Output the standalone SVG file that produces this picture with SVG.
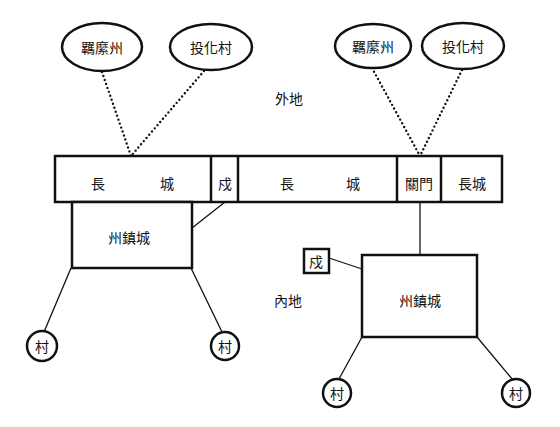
<svg xmlns="http://www.w3.org/2000/svg" width="560" height="427" viewBox="0 0 560 427">
<style>
text{font-family:"Noto Sans CJK TC","Noto Sans CJK JP",sans-serif;font-size:14px;fill:#111;text-anchor:middle;dominant-baseline:central}
.box{fill:#fff;stroke:#111;stroke-width:2.5}
.ell{fill:#fff;stroke:#111;stroke-width:2.5}
.ln{stroke:#111;stroke-width:1.3;fill:none}
.dot{stroke:#111;stroke-width:2.4;fill:none;stroke-dasharray:0 4.2;stroke-linecap:round}
</style>
<rect width="560" height="427" fill="#fff"/>
<g id="connectors">
<line class="dot" x1="102" y1="72" x2="131" y2="156"/>
<line class="dot" x1="204" y1="71" x2="131" y2="156"/>
<line class="dot" x1="372" y1="68" x2="420" y2="156"/>
<line class="dot" x1="462" y1="70" x2="420" y2="156"/>
<line class="ln" x1="225" y1="202" x2="192" y2="228"/>
<line class="ln" x1="420" y1="202" x2="420" y2="255"/>
<line class="ln" x1="329" y1="258" x2="362" y2="269"/>
<line class="ln" x1="71" y1="268" x2="44" y2="332"/>
<line class="ln" x1="191" y1="268" x2="222" y2="332"/>
<line class="ln" x1="362" y1="337" x2="339" y2="379"/>
<line class="ln" x1="477" y1="337" x2="513" y2="380"/>
</g>
<g id="wall">
<rect class="box" x="55" y="156" width="447" height="46"/>
<line class="box" x1="211" y1="156" x2="211" y2="202"/>
<line class="box" x1="238" y1="156" x2="238" y2="202"/>
<line class="box" x1="397" y1="156" x2="397" y2="202"/>
<line class="box" x1="441" y1="156" x2="441" y2="202"/>
<text x="98" y="183">長</text>
<text x="167" y="183">城</text>
<text x="225" y="183">戍</text>
<text x="287" y="183">長</text>
<text x="353" y="183">城</text>
<text x="419" y="183">關門</text>
<text x="472" y="183">長城</text>
</g>
<g id="ell-l1"><ellipse class="ell" cx="102" cy="47" rx="40" ry="24"/><text x="102" y="47">羈縻州</text></g>
<g id="ell-l2"><ellipse class="ell" cx="211" cy="47" rx="41" ry="23"/><text x="211" y="47">投化村</text></g>
<g id="ell-r1"><ellipse class="ell" cx="373" cy="46" rx="38" ry="22"/><text x="373" y="46">羈縻州</text></g>
<g id="ell-r2"><ellipse class="ell" cx="463" cy="46" rx="41" ry="23"/><text x="463" y="46">投化村</text></g>
<g id="label-out"><text x="289" y="98">外地</text></g>
<g id="label-in"><text x="288" y="300">內地</text></g>
<g id="city-l"><rect class="box" x="72" y="202" width="120" height="66"/><text x="129" y="237">州鎮城</text></g>
<g id="city-r"><rect class="box" x="362" y="255" width="115" height="82"/><text x="420" y="300">州鎮城</text></g>
<g id="fort-r"><rect class="box" x="304" y="249" width="25" height="24"/><text x="316" y="261">戍</text></g>
<g id="v1"><circle class="ell" cx="42" cy="346" r="15"/><text x="42" y="346">村</text></g>
<g id="v2"><circle class="ell" cx="225" cy="346" r="14"/><text x="225" y="346">村</text></g>
<g id="v3"><circle class="ell" cx="337" cy="393" r="14"/><text x="337" y="393">村</text></g>
<g id="v4"><circle class="ell" cx="516" cy="393" r="14"/><text x="516" y="393">村</text></g>
</svg>
